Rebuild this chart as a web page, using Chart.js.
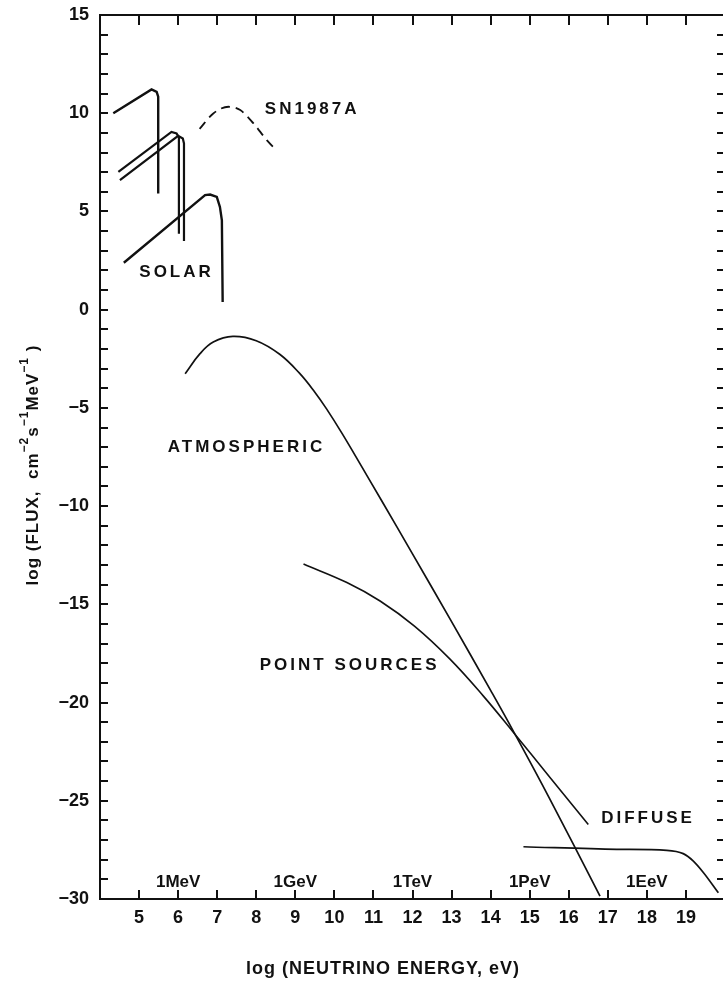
<!DOCTYPE html>
<html>
<head>
<meta charset="utf-8">
<script src="https://cdn.jsdelivr.net/npm/chart.js@4.4.0/dist/chart.umd.min.js"></script>
<style>
  html, body { margin: 0; padding: 0; background: #fff; overflow: hidden; }
  #wrap { width: 723px; height: 982px; overflow: hidden; position: relative; }
  canvas { display: block; }
</style>
</head>
<body>
<div id="wrap"><canvas id="grafica" width="730" height="982"></canvas></div>
<script>
// --------------------- DATOS ---------------------
// ejes (log energia eV / log flujo)
const xTickLabels = [5, 6, 7, 8, 9, 10, 11, 12, 13, 14, 15, 16, 17, 18, 19];
const yTickLabels = [-30, -25, -20, -15, -10, -5, 0, 5, 10, 15];
const energyLabels = ["1MeV", "1GeV", "1TeV", "1PeV", "1EeV"];
const energyAt = [6, 9, 12, 15, 18];

// solar (cuatro espectros)
const solarAx = [4.34, 5.32, 5.45, 5.49, 5.49];
const solarAy = [10.0, 11.21, 11.09, 10.84, 5.91];
const solarBx = [4.47, 5.83, 5.96, 6.02, 6.02];
const solarBy = [7.01, 9.05, 8.97, 8.77, 3.87];
const solarCx = [4.51, 6.0, 6.12, 6.15, 6.15];
const solarCy = [6.59, 8.85, 8.71, 8.46, 3.5];
const solarDx = [4.61, 6.69, 6.82, 6.99, 7.07, 7.12, 7.14];
const solarDy = [2.39, 5.83, 5.86, 5.74, 5.23, 4.55, 0.39];

// SN1987A (discontinua)
const snX = [6.55, 6.90, 7.29, 7.59, 7.93, 8.27, 8.51];
const snY = [9.2, 9.99, 10.33, 10.16, 9.48, 8.63, 8.12];

// atmosferico
const atmX = [6.18, 6.56, 6.90, 7.40, 8.00, 8.60, 9.10, 9.50, 9.80, 10.20, 10.70, 11.20, 12.00, 13.00, 14.00, 14.58, 15.50, 16.80];
const atmY = [-3.26, -2.24, -1.65, -1.36, -1.58, -2.27, -3.22, -4.20, -5.05, -6.31, -7.99, -9.69, -12.43, -15.88, -19.38, -21.45, -24.85, -29.85];

// fuentes puntuales
const ptsX = [9.21, 10.32, 11.17, 12.05, 12.96, 13.81, 14.58, 15.52, 16.5];
const ptsY = [-12.95, -13.89, -14.83, -16.11, -17.79, -19.66, -21.51, -23.81, -26.21];

// difuso
const difX = [14.84, 17.23, 18.51, 18.93, 19.19, 19.45, 19.83];
const difY = [-27.34, -27.47, -27.52, -27.69, -28.07, -28.66, -29.68];

// etiquetas de las curvas [texto, x, y, alineacion]
const curveLabels = [
  ["SN1987A", 8.22, 10.2, "left"],
  ["SOLAR", 5.96, 1.9, "center"],
  ["ATMOSPHERIC", 7.75, -7.0, "center"],
  ["POINT SOURCES", 10.39, -18.1, "center"],
  ["DIFFUSE", 18.03, -25.9, "center"]
];

const FONT = "'Liberation Sans', Arial, Helvetica, sans-serif";

function pares(xs, ys) {
  return xs.map((x, i) => ({ x: x, y: ys[i] }));
}

function serie(xs, ys, ancho, extra) {
  return Object.assign({
    data: pares(xs, ys),
    borderColor: "#111",
    borderWidth: ancho,
    pointRadius: 0,
    fill: false,
    tension: 0
  }, extra || {});
}

// --------------------- PLUGIN: marco, marcas y textos ---------------------
const marcoPlugin = {
  id: "marco",
  afterDraw(chart) {
    const ctx = chart.ctx;
    const a = chart.chartArea;
    const xs = chart.scales.x;
    const ys = chart.scales.y;
    ctx.save();
    ctx.strokeStyle = "#111";
    ctx.fillStyle = "#111";

    // marco
    ctx.lineWidth = 2;
    ctx.strokeRect(a.left, a.top, a.right - a.left, a.bottom - a.top);

    // marcas eje x (abajo y arriba), hacia dentro
    xTickLabels.forEach(v => {
      const px = Math.round(xs.getPixelForValue(v));
      ctx.beginPath();
      ctx.moveTo(px, a.bottom);
      ctx.lineTo(px, a.bottom - 9);
      ctx.moveTo(px, a.top);
      ctx.lineTo(px, a.top + 10);
      ctx.stroke();
    });
    // marcas eje y cada unidad (izquierda y derecha)
    for (let v = yTickLabels[0] + 1; v < yTickLabels[yTickLabels.length - 1]; v++) {
      const py = Math.round(ys.getPixelForValue(v));
      ctx.beginPath();
      ctx.moveTo(a.left, py);
      ctx.lineTo(a.left + 8, py);
      ctx.moveTo(a.right, py);
      ctx.lineTo(a.right - 8, py);
      ctx.stroke();
    }

    // energias dentro del grafico
    ctx.font = "bold 17px " + FONT;
    ctx.textAlign = "center";
    ctx.textBaseline = "middle";
    energyLabels.forEach((t, i) => {
      ctx.fillText(t, xs.getPixelForValue(energyAt[i]), a.bottom - 17);
    });

    // etiquetas de curvas
    ctx.font = "bold 17px " + FONT;
    ctx.letterSpacing = "3px";
    curveLabels.forEach(l => {
      ctx.textAlign = l[3];
      ctx.fillText(l[0], xs.getPixelForValue(l[1]), ys.getPixelForValue(l[2]));
    });

    // titulo eje x
    ctx.font = "bold 18px " + FONT;
    ctx.letterSpacing = "1px";
    ctx.textAlign = "center";
    ctx.fillText("log (NEUTRINO ENERGY, eV)", 383, 969);

    // titulo eje y (con exponentes)
    ctx.translate(33, 465);
    ctx.rotate(-Math.PI / 2);
    ctx.letterSpacing = "1px";
    const partes = [
      ["log (FLUX,  cm", false], ["\u22122", true], ["s", false], ["\u22121", true],
      ["MeV", false], ["\u22121", true], [" )", false]
    ];
    const fNormal = "bold 17px " + FONT;
    const fSup = "bold 12px " + FONT;
    let total = 0;
    partes.forEach(p => { ctx.font = p[1] ? fSup : fNormal; total += ctx.measureText(p[0]).width; });
    let cx = -total / 2;
    ctx.textAlign = "left";
    partes.forEach(p => {
      ctx.font = p[1] ? fSup : fNormal;
      ctx.fillText(p[0], cx, p[1] ? -8 : 0);
      cx += ctx.measureText(p[0]).width;
    });
    ctx.restore();
  }
};

// --------------------- GRAFICA ---------------------
new Chart(document.getElementById("grafica"), {
  type: "line",
  data: {
    datasets: [
      serie(solarAx, solarAy, 2.4),
      serie(solarBx, solarBy, 2.2),
      serie(solarCx, solarCy, 2.2),
      serie(solarDx, solarDy, 2.4),
      serie(snX, snY, 1.8, { borderDash: [9, 6], cubicInterpolationMode: "monotone" }),
      serie(atmX, atmY, 1.7, { tension: 0.4 }),
      serie(ptsX, ptsY, 1.6, { tension: 0.4 }),
      serie(difX, difY, 1.7, { cubicInterpolationMode: "monotone" })
    ]
  },
  options: {
    responsive: false,
    animation: false,
    devicePixelRatio: 1,
    layout: { padding: { top: 15, left: 0, right: 5, bottom: 0 } },
    plugins: {
      legend: { display: false },
      tooltip: { enabled: false }
    },
    scales: {
      x: {
        type: "linear",
        min: 4,
        max: 20,
        grid: { display: false, drawTicks: false },
        border: { display: false },
        afterBuildTicks(scale) {
          scale.ticks = xTickLabels.map(v => ({ value: v }));
        },
        afterFit(scale) {
          scale.height = 83;
          scale.paddingLeft = 0;
          scale.paddingRight = 0;
        },
        ticks: {
          color: "#111",
          padding: 8,
          maxRotation: 0,
          autoSkip: false,
          font: { family: FONT, size: 18, weight: "bold" }
        }
      },
      y: {
        type: "linear",
        min: -30,
        max: 15,
        grid: { display: false, drawTicks: false },
        border: { display: false },
        afterBuildTicks(scale) {
          scale.ticks = yTickLabels.map(v => ({ value: v }));
        },
        afterFit(scale) {
          scale.width = 100;
          scale.paddingTop = 0;
          scale.paddingBottom = 0;
        },
        ticks: {
          color: "#111",
          padding: 11,
          font: { family: FONT, size: 18, weight: "bold" },
          callback: v => String(v).replace("-", "\u2212")
        }
      }
    }
  },
  plugins: [marcoPlugin]
});
</script>
</body>
</html>
